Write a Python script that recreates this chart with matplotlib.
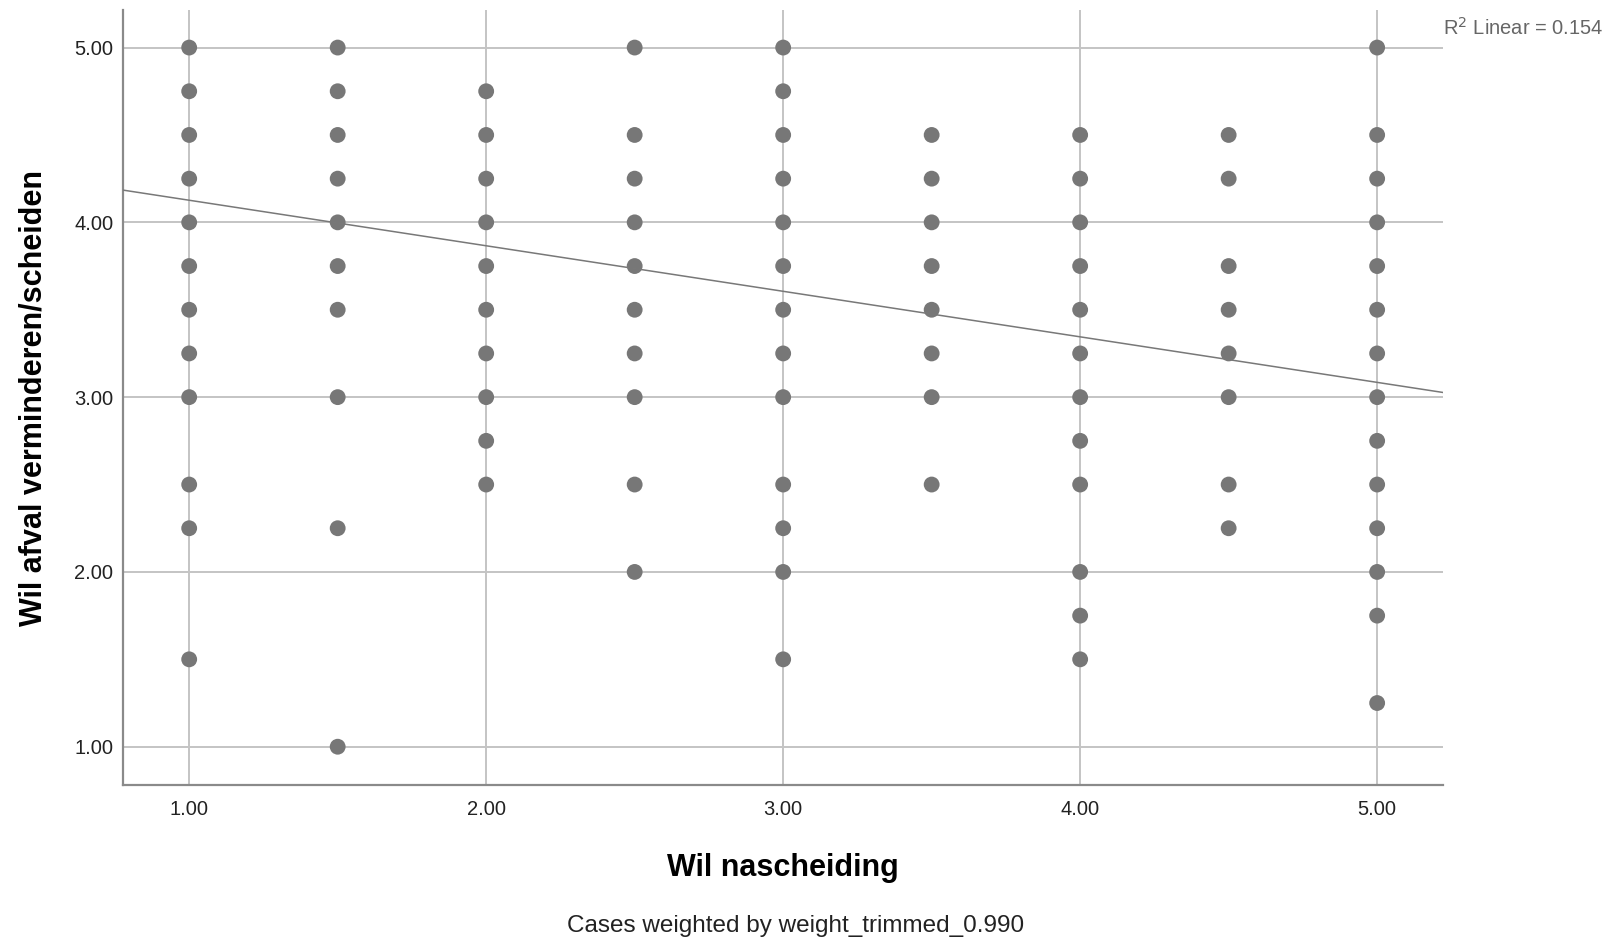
import matplotlib.pyplot as plt
import numpy as np

# Wil nascheiding (x) -> values of "Wil afval verminderen/scheiden" (y) seen in each column
x_levels = [1.0, 1.5, 2.0, 2.5, 3.0, 3.5, 4.0, 4.5, 5.0]
y_at_1_0 = [5.0, 4.75, 4.5, 4.25, 4.0, 3.75, 3.5, 3.25, 3.0, 2.5, 2.25, 1.5]
y_at_1_5 = [5.0, 4.75, 4.5, 4.25, 4.0, 3.75, 3.5, 3.0, 2.25, 1.0]
y_at_2_0 = [4.75, 4.5, 4.25, 4.0, 3.75, 3.5, 3.25, 3.0, 2.75, 2.5]
y_at_2_5 = [5.0, 4.5, 4.25, 4.0, 3.75, 3.5, 3.25, 3.0, 2.5, 2.0]
y_at_3_0 = [5.0, 4.75, 4.5, 4.25, 4.0, 3.75, 3.5, 3.25, 3.0, 2.5, 2.25, 2.0, 1.5]
y_at_3_5 = [4.5, 4.25, 4.0, 3.75, 3.5, 3.25, 3.0, 2.5]
y_at_4_0 = [4.5, 4.25, 4.0, 3.75, 3.5, 3.25, 3.0, 2.75, 2.5, 2.0, 1.75, 1.5]
y_at_4_5 = [4.5, 4.25, 3.75, 3.5, 3.25, 3.0, 2.5, 2.25]
y_at_5_0 = [5.0, 4.5, 4.25, 4.0, 3.75, 3.5, 3.25, 3.0, 2.75, 2.5, 2.25, 2.0, 1.75, 1.25]
y_columns = [y_at_1_0, y_at_1_5, y_at_2_0, y_at_2_5, y_at_3_0,
             y_at_3_5, y_at_4_0, y_at_4_5, y_at_5_0]

# fitted line (weighted fit from SPSS)
fit_intercept = 4.387
fit_slope = -0.2605
r2_linear = 0.154

ticks = [1.0, 2.0, 3.0, 4.0, 5.0]

xs = np.concatenate([[x] * len(ys) for x, ys in zip(x_levels, y_columns)])
ys = np.concatenate(y_columns)

plt.rcParams['font.family'] = ['Liberation Sans', 'DejaVu Sans']

fig = plt.figure(figsize=(16.2, 9.39), dpi=100)
ax = fig.add_axes([0.0759, 0.164, 0.815, 0.825])

ax.set_xlim(0.777, 5.2226)
ax.set_ylim(0.781, 5.213)

# grid only at the tick values
for t in ticks:
    ax.axvline(t, color='#c4c4c4', lw=1.4, zorder=1)
    ax.axhline(t, color='#c4c4c4', lw=1.4, zorder=1)

ax.scatter(xs, ys, s=130, color='#777777', edgecolors='none', zorder=3)

line_x = np.array(ax.get_xlim())
ax.plot(line_x, fit_intercept + fit_slope * line_x, color='#787878', lw=1.1, zorder=4)

ax.set_xticks(ticks)
ax.set_yticks(ticks)
ax.set_xticklabels([f'{t:.2f}' for t in ticks])
ax.set_yticklabels([f'{t:.2f}' for t in ticks])
ax.tick_params(length=0, labelsize=14.5, colors='#222222', pad=7)
ax.tick_params(axis='x', pad=11)

for s in ['top', 'right']:
    ax.spines[s].set_visible(False)
for s in ['left', 'bottom']:
    ax.spines[s].set_color('#8a8a8a')
    ax.spines[s].set_linewidth(1.6)

ax.set_xlabel('Wil nascheiding', fontsize=22, fontweight='bold', va='center')
ax.set_ylabel('Wil afval verminderen/scheiden', fontsize=22, fontweight='bold', va='center')
ax.xaxis.set_label_coords(0.5, -0.107)
ax.yaxis.set_label_coords(-0.0674, 0.5)

fig.text(0.891, 0.970, f'R$^2$ Linear = {r2_linear:.3f}', fontsize=14.5,
         color='#666666', ha='left', va='center')
fig.text(0.491, 0.014, 'Cases weighted by weight_trimmed_0.990', fontsize=17.5,
         color='#222222', ha='center', va='center')

plt.savefig('out.png', dpi=100)
